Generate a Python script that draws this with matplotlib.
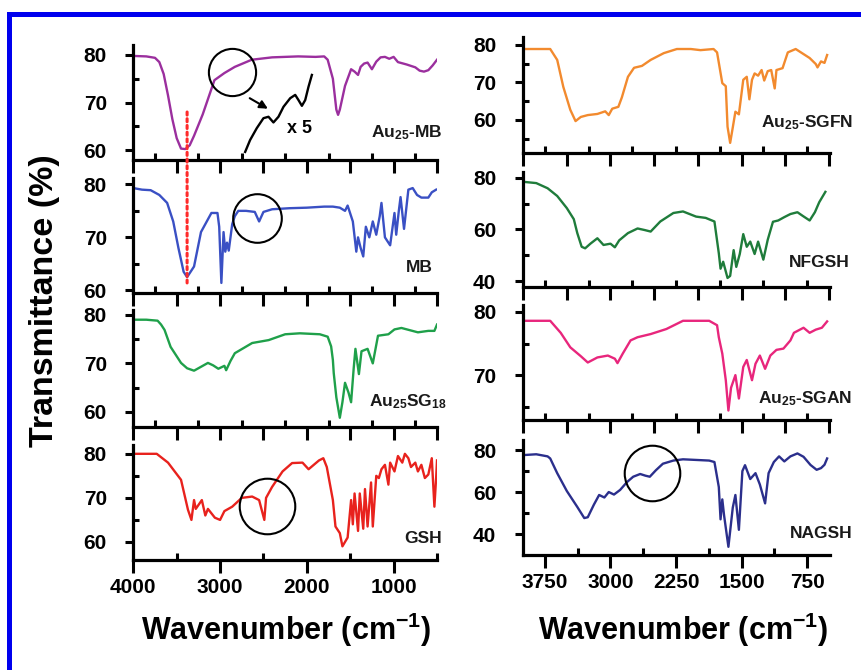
import matplotlib
matplotlib.use('Agg')
import matplotlib.pyplot as plt
from matplotlib import font_manager
from matplotlib.ticker import MultipleLocator, FixedLocator
from matplotlib.patches import Rectangle, ConnectionPatch, FancyArrowPatch

names = {f.name for f in font_manager.fontManager.ttflist}
NARROW = 'Liberation Sans Narrow' if 'Liberation Sans Narrow' in names else 'Liberation Sans'
WIDE = 'Liberation Sans'

plt.rcParams['font.family'] = [NARROW, 'DejaVu Sans']
plt.rcParams['font.weight'] = 'bold'
plt.rcParams['mathtext.fontset'] = 'custom'
plt.rcParams['mathtext.rm'] = NARROW + ':bold'
plt.rcParams['mathtext.bf'] = NARROW + ':bold'
plt.rcParams['mathtext.default'] = 'rm'

# ---- spectra (wavenumber cm-1, transmittance %) ----
au25mb_wn = [4000, 3850, 3750, 3700, 3650, 3600, 3550, 3500, 3450, 3400, 3350, 3300, 3200, 3065,
             2950, 2830, 2700, 2635, 2400, 2100, 1900, 1800, 1760, 1700, 1660, 1640, 1620, 1560,
             1490, 1450, 1410, 1380, 1340, 1300, 1250, 1200, 1150, 1100, 1050, 1000, 950, 850,
             750, 700, 650, 600, 550, 500]
au25mb_t = [79.8, 79.7, 79.4, 78.5, 76.0, 71.5, 66.5, 62.5, 60.3, 60.2, 61.0, 63.0, 67.5, 74.7,
            76.2, 77.5, 78.5, 79.0, 79.5, 79.7, 79.6, 79.7, 79.0, 75.0, 68.5, 67.4, 68.5, 73.5,
            77.0, 76.5, 75.8, 77.5, 78.2, 78.4, 77.0, 78.6, 79.5, 79.6, 79.2, 79.6, 78.5, 78.0,
            77.4, 76.7, 76.5, 76.8, 77.8, 79.0]

mb_wn = [4000, 3900, 3800, 3700, 3610, 3540, 3480, 3420, 3380, 3300, 3220, 3100, 3030, 3010, 2985,
         2960, 2940, 2920, 2900, 2860, 2830, 2790, 2700, 2600, 2550, 2500, 2400, 2200, 2000, 1800,
         1700, 1620, 1560, 1530, 1470, 1430, 1410, 1380, 1350, 1320, 1280, 1240, 1200, 1160, 1140,
         1100, 1040, 990, 970, 940, 920, 880, 830, 780, 730, 680, 600, 560, 510]
mb_t = [79.3, 79.0, 78.9, 78.0, 76.5, 73.0, 68.0, 63.5, 62.5, 64.5, 71.0, 74.6, 74.6, 72.0, 61.4,
        71.0, 67.3, 69.0, 67.5, 72.5, 74.0, 75.0, 75.0, 74.8, 73.0, 74.8, 75.3, 75.5, 75.6, 75.8,
        75.8, 75.6, 75.0, 76.0, 73.0, 67.3, 70.0, 68.0, 66.4, 72.0, 70.0, 73.0, 70.5, 74.0, 76.5,
        70.0, 68.5, 74.6, 70.5, 75.0, 77.6, 71.6, 79.0, 79.3, 78.0, 77.5, 77.5, 78.5, 79.0]

au25sg_wn = [4000, 3850, 3720, 3680, 3640, 3570, 3450, 3380, 3300, 3220, 3140, 3080, 3020, 2950,
             2930, 2880, 2830, 2630, 2440, 2250, 2080, 1850, 1760, 1720, 1700, 1690, 1660, 1620,
             1590, 1560, 1520, 1490, 1460, 1440, 1400, 1370, 1300, 1240, 1180, 1060, 990, 910,
             720, 600, 530, 500]
au25sg_t = [79.0, 79.0, 78.8, 78.0, 76.9, 73.4, 70.1, 69.0, 68.5, 69.3, 70.1, 69.6, 68.9, 69.5,
            68.6, 70.5, 72.1, 74.2, 74.8, 76.0, 76.2, 76.0, 75.5, 73.5, 70.7, 68.0, 63.0, 58.8,
            62.0, 66.0, 64.0, 62.0, 69.0, 73.0, 67.8, 72.5, 73.0, 70.0, 75.7, 76.0, 77.0, 77.3,
            76.4, 76.7, 76.7, 78.0]

gsh_wn = [4000, 3850, 3730, 3600, 3450, 3370, 3330, 3300, 3280, 3210, 3170, 3140, 3060, 3000, 2950,
          2860, 2750, 2630, 2550, 2490, 2470, 2400, 2280, 2170, 2050, 1980, 1860, 1810, 1770, 1700,
          1670, 1620, 1590, 1530, 1490, 1470, 1450, 1410, 1390, 1350, 1330, 1300, 1260, 1240, 1200,
          1170, 1140, 1100, 1060, 1040, 990, 950, 900, 870, 830, 800, 750, 720, 680, 640, 600, 560,
          530, 510, 500]
gsh_t = [80.0, 80.0, 80.0, 78.0, 74.1, 67.3, 65.0, 69.5, 67.5, 69.5, 66.0, 67.5, 65.5, 65.0, 67.0,
         68.0, 70.0, 70.3, 69.5, 65.0, 70.0, 72.5, 76.0, 77.9, 78.0, 76.5, 78.5, 79.0, 77.0, 69.5,
         63.5, 62.0, 59.0, 61.0, 69.5, 64.0, 71.0, 62.5, 71.0, 63.0, 72.0, 63.5, 73.5, 63.5, 75.0,
         74.5, 76.5, 77.5, 73.0, 78.0, 76.0, 79.5, 78.0, 80.0, 79.0, 77.0, 78.0, 76.0, 77.5, 74.5,
         75.3, 79.0, 68.0, 74.5, 78.5]

sgfn_wn = [4000, 3850, 3690, 3610, 3540, 3460, 3400, 3340, 3260, 3150, 3060, 3020, 2980, 2910, 2870,
           2800, 2730, 2640, 2540, 2390, 2240, 2080, 1970, 1820, 1780, 1720, 1680, 1660, 1630, 1600,
           1570, 1530, 1480, 1440, 1410, 1380, 1350, 1310, 1270, 1240, 1200, 1160, 1120, 1100, 1030,
           970, 880, 840, 720, 650, 630, 590, 550, 520]
sgfn_t = [78.9, 78.9, 78.9, 76.0, 68.8, 62.7, 59.7, 60.8, 61.3, 61.6, 62.3, 61.3, 63.0, 63.5, 66.0,
          71.5, 73.9, 74.4, 76.0, 77.8, 78.9, 78.9, 78.6, 78.9, 78.0, 69.8, 69.0, 58.2, 53.9, 58.0,
          62.2, 61.5, 70.7, 71.5, 65.5, 70.7, 72.4, 71.8, 73.3, 70.5, 73.0, 73.3, 68.4, 73.3, 73.8,
          78.0, 78.9, 78.3, 76.5, 74.9, 74.0, 75.6, 75.2, 77.3]

nfgsh_wn = [4000, 3850, 3720, 3610, 3500, 3420, 3380, 3330, 3290, 3230, 3150, 3080, 3000, 2950, 2900,
            2800, 2690, 2610, 2540, 2430, 2280, 2170, 2020, 1910, 1810, 1760, 1740, 1710, 1660, 1630,
            1590, 1560, 1520, 1480, 1440, 1400, 1350, 1310, 1250, 1200, 1140, 1080, 1010, 940, 860,
            800, 720, 660, 610, 540]
nfgsh_t = [78.5, 78.0, 76.0, 73.0, 68.3, 64.0, 58.6, 53.3, 52.7, 54.5, 56.6, 54.0, 54.5, 53.1, 55.8,
           58.6, 60.4, 59.8, 59.2, 63.1, 66.4, 67.0, 65.0, 64.5, 63.1, 50.8, 44.8, 47.5, 41.2, 42.0,
           52.0, 45.5, 50.5, 58.2, 53.3, 55.3, 50.5, 55.3, 48.3, 56.0, 63.0, 63.5, 64.8, 66.0, 66.7,
           65.3, 63.5, 66.7, 70.6, 74.6]

sgan_wn = [4000, 3850, 3690, 3570, 3460, 3340, 3260, 3150, 3030, 2950, 2920, 2860, 2770, 2690, 2540,
           2360, 2170, 1870, 1780, 1760, 1720, 1680, 1650, 1620, 1570, 1530, 1480, 1440, 1380, 1340,
           1290, 1230, 1170, 1100, 1020, 940, 900, 790, 720, 650, 580, 520]
sgan_t = [78.6, 78.6, 78.6, 76.7, 74.4, 73.0, 72.0, 72.8, 73.1, 72.6, 71.9, 73.4, 75.5, 76.0, 76.5,
          77.3, 78.6, 78.6, 77.9, 76.0, 73.4, 69.2, 64.4, 68.0, 70.0, 66.3, 71.3, 72.4, 69.2, 71.8,
          73.1, 71.0, 73.1, 74.0, 74.2, 75.5, 76.7, 77.5, 76.7, 77.2, 77.5, 78.5]

nagsh_wn = [4000, 3850, 3720, 3690, 3610, 3500, 3380, 3300, 3260, 3190, 3130, 3070, 3020, 2960, 2890,
            2810, 2740, 2660, 2600, 2550, 2480, 2400, 2280, 2170, 1870, 1810, 1760, 1740, 1720, 1700,
            1650, 1600, 1570, 1530, 1490, 1460, 1400, 1340, 1290, 1230, 1190, 1130, 1070, 1010, 940,
            860, 790, 710, 640, 590, 550, 520]
nagsh_t = [77.6, 78.0, 77.0, 76.0, 69.0, 60.5, 52.9, 47.6, 48.0, 54.0, 58.6, 57.4, 60.0, 58.8, 61.0,
           64.8, 67.3, 68.6, 67.8, 67.3, 70.4, 73.5, 75.0, 75.6, 75.0, 74.3, 62.4, 47.0, 56.5, 49.0,
           33.9, 52.6, 58.6, 42.0, 70.0, 72.8, 66.2, 69.0, 63.6, 54.6, 69.0, 74.3, 77.0, 74.6, 77.0,
           78.4, 76.8, 72.9, 70.6, 71.4, 73.0, 76.0]

# magnified (x 5) piece of the Au25-MB trace, drawn as an inset curve
inset_wn = [2711, 2654, 2577, 2500, 2442, 2385, 2327, 2269, 2192, 2134, 2096, 2057, 2019, 1981, 1942]
inset_t = [59.6, 62.1, 64.6, 66.7, 67.0, 65.8, 67.0, 69.1, 70.9, 71.6, 70.5, 69.3, 70.5, 73.3, 75.8]

W, H = 862, 670
fig = plt.figure(figsize=(W / 100, H / 100), dpi=100)


def px_axes(left, top, right, bottom):
    return fig.add_axes([left / W, 1 - bottom / H, (right - left) / W, (bottom - top) / H])


def style(ax, ylim, ymaj, ymin, bottom, xmaj, xmin, xlim):
    ax.set_xlim(*xlim)
    ax.set_ylim(*ylim)
    for s in ('top', 'right'):
        ax.spines[s].set_visible(False)
    for s in ('left', 'bottom'):
        ax.spines[s].set_linewidth(2.3)
    ax.yaxis.set_major_locator(FixedLocator(ymaj))
    ax.yaxis.set_minor_locator(FixedLocator(ymin))
    ax.xaxis.set_major_locator(MultipleLocator(xmaj))
    ax.xaxis.set_minor_locator(MultipleLocator(xmin))
    ax.tick_params(axis='y', which='major', direction='out', length=6, width=2.2,
                   pad=13, labelsize=15)
    ax.tick_params(axis='y', which='minor', direction='in', length=4, width=2.2)
    ax.tick_params(axis='x', which='major', direction='out', length=9, width=2.2,
                   pad=4, labelsize=15, labelbottom=bottom)
    ax.tick_params(axis='x', which='minor', direction='in', length=5, width=2.2)
    ax.patch.set_alpha(0)


def label(ax, text, xf, yf):
    ax.text(xf, yf, text, transform=ax.transAxes, ha='right', va='center',
            fontsize=12.5, fontweight='bold', color='#1a1a1a')


LX = (133.3, 437)
RX = (522.7, 830)
xl_left = (4000, 500)
xl_right = (4005, 487)

# left column
ax1 = px_axes(LX[0], 45, LX[1], 160)
ax2 = px_axes(LX[0], 178, LX[1], 293)
ax3 = px_axes(LX[0], 310, LX[1], 427)
ax4 = px_axes(LX[0], 445, LX[1], 560)
# right column
ax5 = px_axes(RX[0], 37, RX[1], 153)
ax6 = px_axes(RX[0], 172, RX[1], 287)
ax7 = px_axes(RX[0], 305, RX[1], 420)
ax8 = px_axes(RX[0], 440, RX[1], 555)

style(ax1, (57.9, 82.1), [60, 70, 80], [65, 75], False, 500, 250, xl_left)
style(ax2, (59.5, 81.2), [60, 70, 80], [65, 75], False, 500, 250, xl_left)
style(ax3, (56.9, 81.0), [60, 70, 80], [65, 75], False, 500, 250, xl_left)
style(ax4, (55.9, 82.0), [60, 70, 80], [65, 75], True, 1000, 500, xl_left)
style(ax5, (51.2, 82.1), [60, 70, 80], [55, 65, 75], False, 500, 250, xl_right)
style(ax6, (37.7, 82.3), [40, 60, 80], [50, 70], False, 500, 250, xl_right)
style(ax7, (62.9, 81.1), [70, 80], [65, 75], False, 500, 250, xl_right)
style(ax8, (30.0, 84.8), [40, 60, 80], [50, 70], True, 750, 375, xl_right)

lw = 1.7
ax1.plot(au25mb_wn, au25mb_t, color='#9b2f9e', lw=lw)
ax2.plot(mb_wn, mb_t, color='#3a50c4', lw=lw)
ax3.plot(au25sg_wn, au25sg_t, color='#1fa04a', lw=lw)
ax4.plot(gsh_wn, gsh_t, color='#e8221d', lw=lw)
ax5.plot(sgfn_wn, sgfn_t, color='#f28a2e', lw=lw)
ax6.plot(nfgsh_wn, nfgsh_t, color='#1f7c3b', lw=lw)
ax7.plot(sgan_wn, sgan_t, color='#e8267c', lw=lw)
ax8.plot(nagsh_wn, nagsh_t, color='#2b2f8c', lw=lw)

label(ax1, r'Au$_{25}$-MB', 1.016, 0.235)
label(ax2, 'MB', 0.987, 0.226)
label(ax3, r'Au$_{25}$SG$_{18}$', 1.033, 0.214)
label(ax4, 'GSH', 1.016, 0.19)
label(ax5, r'Au$_{25}$-SGFN', 1.075, 0.26)
label(ax6, 'NFGSH', 1.065, 0.217)
label(ax7, r'Au$_{25}$-SGAN', 1.072, 0.19)
label(ax8, 'NAGSH', 1.072, 0.19)

# circles around the weak S-H region
ring = dict(marker='o', mfc='none', mec='black', mew=1.5, ls='none', clip_on=False)
ax1.plot([2861], [76.4], ms=34, **ring)
ax2.plot([2573], [73.7], ms=35, **ring)
ax4.plot([2457], [68.2], ms=40, **ring)
ax8.plot([2530], [69.0], ms=40, **ring)

# arrow and x5 inset
ax1.add_patch(FancyArrowPatch((2686, 71.2), (2421, 68.4), arrowstyle='-|>', mutation_scale=12,
                              color='black', lw=1.5, clip_on=False))
ax1.plot(inset_wn, inset_t, color='black', lw=1.7, clip_on=False)
ax1.text(2227, 64.6, 'x 5', fontsize=13, fontweight='bold', ha='left', va='center')

# red dotted guide through the O-H minimum
con = ConnectionPatch(xyA=(3380, 68.0), coordsA=ax1.transData,
                      xyB=(3380, 61.4), coordsB=ax2.transData,
                      color='#ff2a2a', lw=2.2, ls=(0, (1, 1.2)))
fig.add_artist(con)

fig.text(0.052, 0.552, 'Transmittance (%)', rotation=90, ha='center', va='center',
         fontsize=24.5, fontweight='bold', family=WIDE)
fig.text(0.332, 0.06, r'Wavenumber (cm$^{\mathbf{-1}}$)', ha='center', va='center',
         fontsize=22, fontweight='bold', family=WIDE)
fig.text(0.792, 0.06, r'Wavenumber (cm$^{\mathbf{-1}}$)', ha='center', va='center',
         fontsize=22, fontweight='bold', family=WIDE)

# blue frame (left and top edges)
fig.add_artist(Rectangle((7 / W, 0), 5 / W, 1 - 12 / H, transform=fig.transFigure,
                         color='#0000ee', lw=0))
fig.add_artist(Rectangle((7 / W, 1 - 17 / H), 1 - 7 / W, 5 / H, transform=fig.transFigure,
                         color='#0000ee', lw=0))

fig.savefig('out.png', dpi=100)
